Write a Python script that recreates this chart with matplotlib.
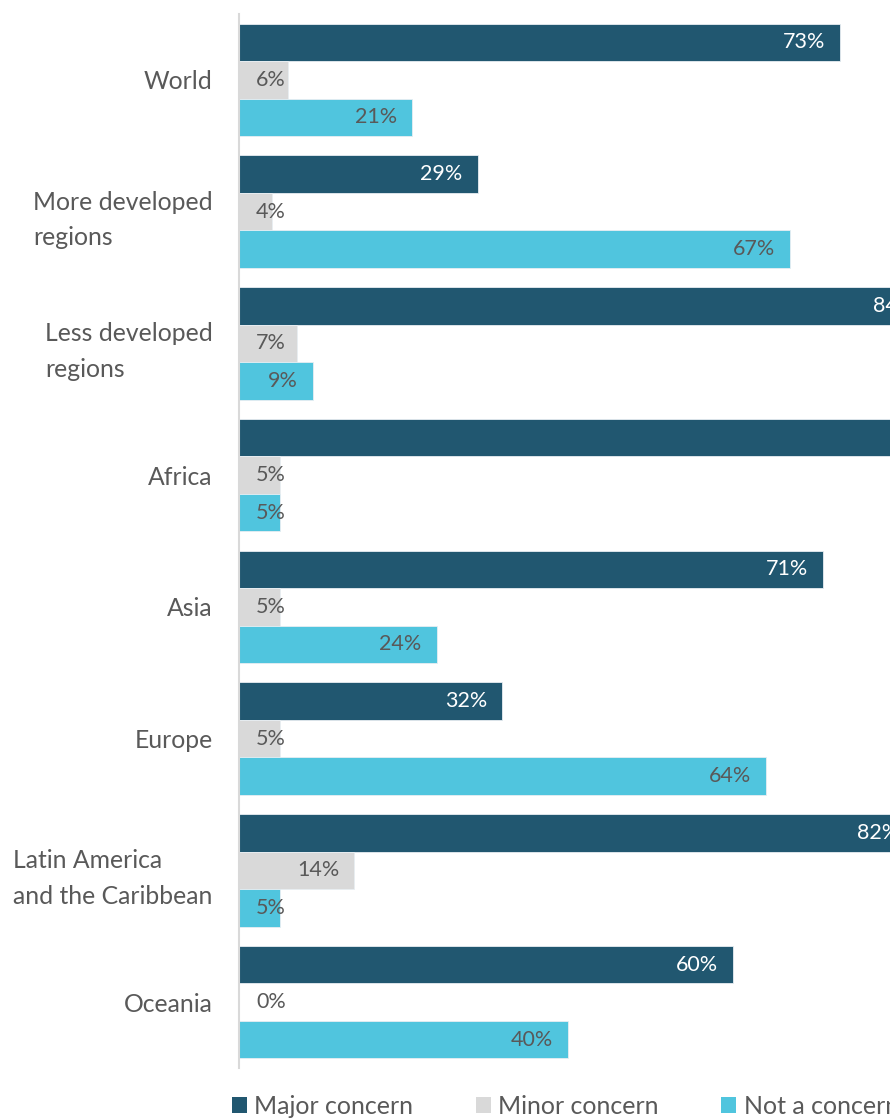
import matplotlib
matplotlib.use("Agg")
import matplotlib.pyplot as plt
from matplotlib.patches import Patch
import numpy as np

categories = ["World", "More developed\nregions", "Less developed\nregions", "Africa",
              "Asia", "Europe", "Latin America\nand the Caribbean", "Oceania"]
major = [73, 29, 84, 90, 71, 32, 82, 60]
minor = [6, 4, 7, 5, 5, 5, 14, 0]
not_concern = [21, 67, 9, 5, 24, 64, 5, 40]
series_names = ["Major concern", "Minor concern", "Not a concern"]

colors = ["#215770", "#D9D9D9", "#50C5DE"]
label_colors = ["white", "#595959", "#595959"]

plt.rcParams['font.family'] = ['Lato', 'DejaVu Sans']

fig = plt.figure(figsize=(8.9, 11.18), dpi=100)
ax = fig.add_axes([239/890, 1-1068/1118, 1-239/890, (1068-14)/1118])

y = np.arange(len(categories))
h = 0.284
px_per_unit = 8.23  # pixels per percent
xmax = (890-239)/px_per_unit
for i, (vals, off) in enumerate(zip([major, minor, not_concern], [-h, 0, h])):
    ax.barh(y + off, vals, height=h, color=colors[i], edgecolor="#E8EEF2",
            linewidth=0.6, label=series_names[i])
    for yy, v in zip(y + off, vals):
        right = max(v - 15/px_per_unit, 47/px_per_unit)
        ax.text(right, yy, f"{v}%", ha="right", va="center", fontsize=15.5,
                color=label_colors[i], clip_on=True)

ax.set_xlim(0, xmax)
ax.set_ylim(len(categories)-0.5, -0.5)
ax.set_yticks(y)
ax.set_yticklabels(categories, fontsize=17.8, color="#595959", ha="right",
                   linespacing=1.65)
for lab in ax.get_yticklabels():
    lab.set_multialignment("left")
ax.tick_params(axis="y", length=0, pad=19)
ax.set_xticks([])
for s in ["top", "right", "bottom"]:
    ax.spines[s].set_visible(False)
ax.spines["left"].set_color("#D9D9D9")
ax.spines["left"].set_linewidth(1.5)

handles = [Patch(facecolor=c, edgecolor="none") for c in colors]
leg = fig.legend(handles, series_names, loc="center", ncol=3,
                 bbox_to_anchor=(0.635, 1-1106/1118), frameon=False,
                 fontsize=18, handlelength=0.6, handleheight=0.6,
                 handletextpad=0.3, columnspacing=2.5)
for t in leg.get_texts():
    t.set_color("#595959")

fig.savefig("out.png", dpi=100)
